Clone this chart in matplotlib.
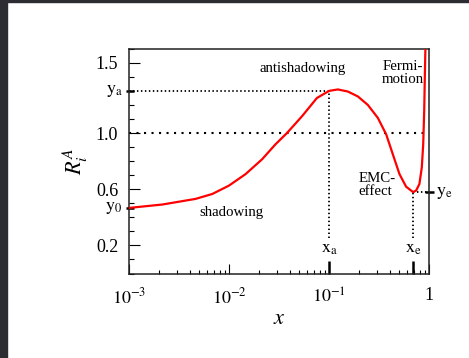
import matplotlib
matplotlib.use("Agg")
import matplotlib.pyplot as plt
from matplotlib.patches import Rectangle
from matplotlib.ticker import FixedLocator, FixedFormatter, MultipleLocator, LogLocator, NullFormatter

plt.rcParams['font.family'] = ['Liberation Serif', 'DejaVu Serif']
plt.rcParams['mathtext.fontset'] = 'stix'

# Nuclear modification ratio R_i^A versus Bjorken x
x_vals = [0.001, 0.00214, 0.00460, 0.00676, 0.00989, 0.01452, 0.02128, 0.02891,
          0.03776, 0.05333, 0.07516, 0.0912, 0.100, 0.1219, 0.1535, 0.1932,
          0.2427, 0.3055, 0.3707, 0.4315, 0.5035, 0.5861, 0.687, 0.7379,
          0.7962, 0.8414, 0.8690, 0.8892, 0.9016, 0.9141, 0.925]
r_vals = [0.467, 0.491, 0.531, 0.566, 0.625, 0.707, 0.813, 0.919,
          1.0, 1.119, 1.249, 1.284, 1.30, 1.31, 1.295, 1.26,
          1.20, 1.108, 0.99, 0.849, 0.707, 0.618, 0.58, 0.590,
          0.637, 0.755, 0.919, 1.154, 1.39, 1.60, 1.75]

xa, ya = 0.1, 1.30
xe, ye = 0.687, 0.58
y0 = 0.467

x_ticks = [1e-3, 1e-2, 1e-1, 1.0]
x_tick_labels = [r'$10^{-3}$', r'$10^{-2}$', r'$10^{-1}$', '1']
y_ticks = [0.2, 0.6, 1.0, 1.5]
y_tick_labels = ['0.2', '0.6', '1.0', '1.5']

fig = plt.figure(figsize=(4.69, 3.58), dpi=100)
fig.patch.set_facecolor('white')
# dark frame strips along the left and top edges
fig.patches.append(Rectangle((0, 0), 7 / 469, 1, transform=fig.transFigure,
                             color='#2b2d33', zorder=-1))
fig.patches.append(Rectangle((0, 1 - 2 / 358), 1, 2 / 358, transform=fig.transFigure,
                             color='#2b2d33', zorder=-1))

ax = fig.add_axes([129.3 / 469, 1 - 273.5 / 358, 300 / 469, 224.8 / 358])
ax.set_xscale('log')
ax.set_xlim(1e-3, 1)
ax.set_ylim(0, 1.6)

ax.plot(x_vals, r_vals, color='#ff0000', lw=1.6, zorder=3)

# reference guide lines
dense = (0, (0.8, 1.4))
ax.plot([1e-3, xa], [ya, ya], color='k', lw=1.3, ls=dense)
ax.plot([xa, xa], [0.25, ya], color='k', lw=1.3, ls=dense)
ax.plot([xe, xe], [0.25, ye], color='k', lw=1.3, ls=dense)
ax.plot([xe, 1.0], [ye, ye], color='k', lw=1.3, ls=dense)
ax.axhline(1.0, xmin=0, xmax=0.985, color='k', lw=1.5, ls=(0, (1, 2.6)))

# emphasized marks for the characteristic points
yt = ax.get_yaxis_transform()
xt = ax.get_xaxis_transform()
for yv in (ya, y0):
    ax.plot([-0.01, 0.014], [yv, yv], transform=yt, color='k', lw=1.8,
            clip_on=False, solid_capstyle='butt')
ax.plot([0.986, 1.014], [ye, ye], transform=yt, color='k', lw=1.8,
        clip_on=False, solid_capstyle='butt')
for xv in (xa, xe):
    ax.plot([xv, xv], [0, 0.056], transform=xt, color='k', lw=1.8,
            clip_on=False, solid_capstyle='butt')

ax.annotate(r'$\mathrm{y}_\mathrm{a}$', xy=(0, ya), xycoords=yt,
            xytext=(-5, 0), textcoords='offset points', ha='right', va='center', fontsize=13)
ax.annotate(r'$\mathrm{y}_0$', xy=(0, y0), xycoords=yt,
            xytext=(-5, 0), textcoords='offset points', ha='right', va='center', fontsize=13)
ax.annotate(r'$\mathrm{y}_\mathrm{e}$', xy=(1, ye), xycoords=yt,
            xytext=(5, 0), textcoords='offset points', ha='left', va='center', fontsize=13)
ax.text(xa, 0.175, r'$\mathrm{x}_\mathrm{a}$', ha='center', va='center', fontsize=13)
ax.text(xe, 0.175, r'$\mathrm{x}_\mathrm{e}$', ha='center', va='center', fontsize=13)

ax.text(0.0537, 1.456, 'antishadowing', ha='center', va='center', fontsize=10.7)
ax.text(0.338, 1.426, 'Fermi-\nmotion', ha='left', va='center', fontsize=10.7, linespacing=1.0)
ax.text(0.197, 0.633, 'EMC-\neffect', ha='left', va='center', fontsize=10.7, linespacing=1.0)
ax.text(0.0104, 0.432, 'shadowing', ha='center', va='center', fontsize=10.7)

ax.xaxis.set_major_locator(FixedLocator(x_ticks))
ax.xaxis.set_major_formatter(FixedFormatter(x_tick_labels))
ax.xaxis.set_minor_locator(LogLocator(base=10, subs=range(2, 10)))
ax.xaxis.set_minor_formatter(NullFormatter())
ax.yaxis.set_major_locator(FixedLocator(y_ticks))
ax.yaxis.set_major_formatter(FixedFormatter(y_tick_labels))
ax.yaxis.set_minor_locator(MultipleLocator(0.1))

ax.tick_params(axis='x', which='major', direction='in', length=7.2, width=0.8,
               labelsize=13, pad=10, top=False)
ax.tick_params(axis='x', which='minor', direction='in', length=3, width=0.8, top=False)
ax.tick_params(axis='y', which='major', direction='in', length=7.7, width=0.8,
               labelsize=13, pad=8, right=False)
ax.tick_params(axis='y', which='minor', direction='in', length=3.6, width=0.8, right=False)

for sp in ax.spines.values():
    sp.set_linewidth(1.1)
    sp.set_color('#222222')

ax.set_xlabel(r'$x$', fontsize=16, labelpad=2)
ax.set_ylabel(r'$R_i^A$', fontsize=16, labelpad=4)

fig.savefig('out.png', dpi=100)
